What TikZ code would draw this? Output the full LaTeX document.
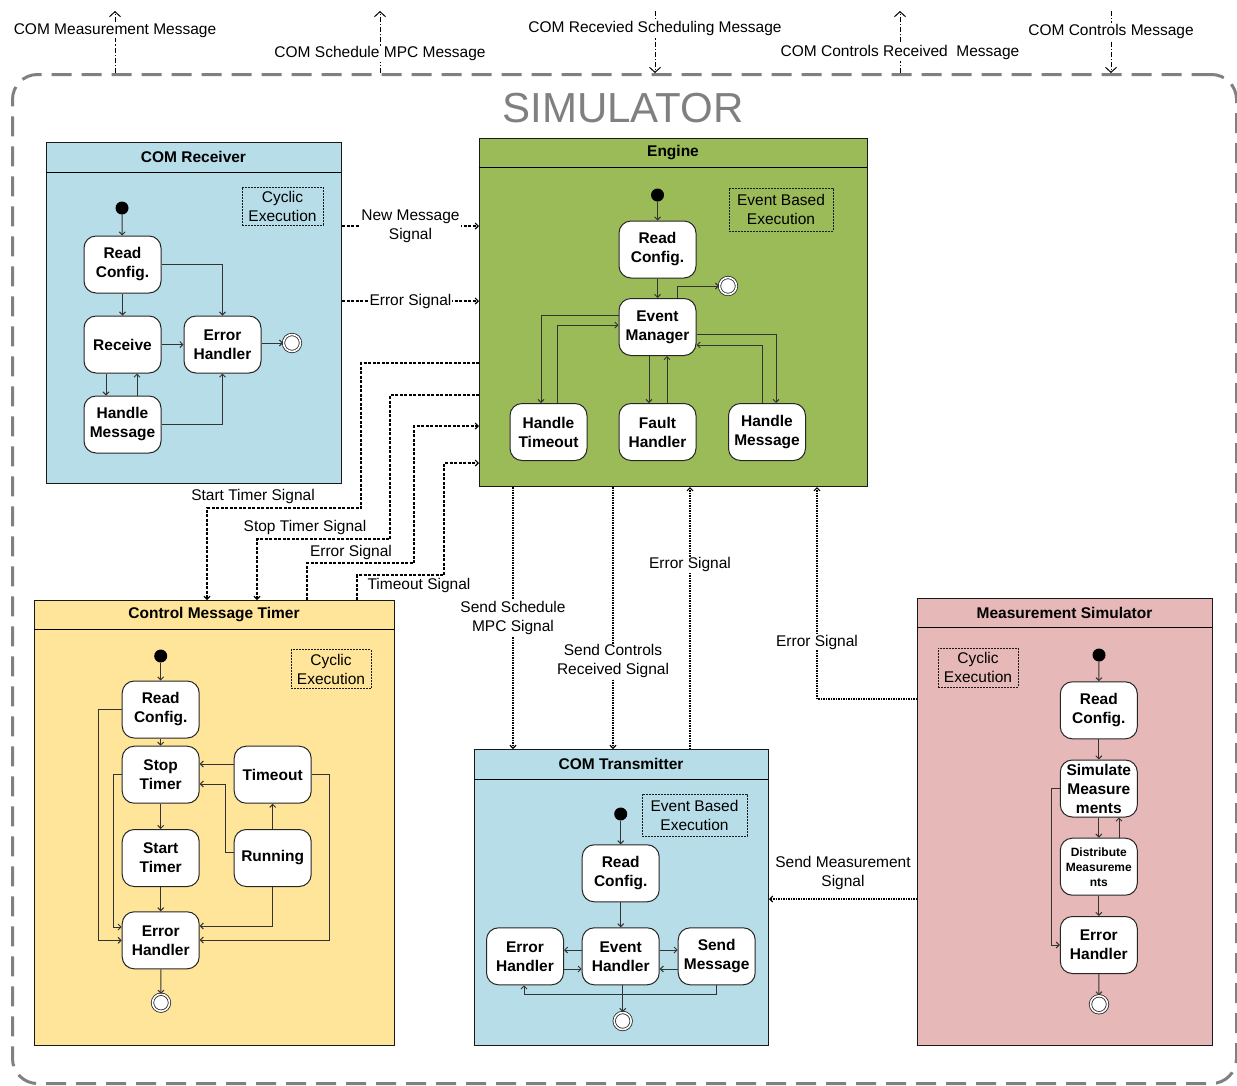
\documentclass[tikz,border=0pt]{standalone}
\usepackage{fontspec}
\setmainfont{Liberation Sans}
\usetikzlibrary{arrows.meta}
\definecolor{cblue}{RGB}{182,221,232}
\definecolor{cgreen}{RGB}{155,187,89}
\definecolor{cyellow}{RGB}{255,229,153}
\definecolor{cpink}{RGB}{230,184,183}
\definecolor{cgray}{RGB}{128,128,128}
\newcommand{\nf}{\fontsize{15.5}{19}\selectfont}
\newcommand{\smallnf}{\fontsize{12}{15}\selectfont}
\begin{document}
\begin{tikzpicture}[x=1pt,y=-1pt,
  st/.style={draw=black!85, line width=1pt, fill=white, rounded corners=12pt,
    minimum width=77pt, minimum height=57pt, align=center, font=\nf\bfseries, inner sep=1pt},
  init/.style={circle, fill=black, minimum size=13pt, inner sep=0pt},
  fin/.style={circle, draw=black!85, line width=0.8pt, double=white, double distance=1.6pt,
    fill=white, minimum size=17pt, inner sep=0pt},
  pool/.style={draw=black!90, line width=1pt, anchor=north west, inner sep=0pt},
  ptitle/.style={font=\nf\bfseries},
  execbox/.style={draw=black!90, line width=1pt, dash pattern=on 2pt off 1pt, align=center,
    font=\nf, inner sep=1pt},
  flow/.style={draw=black!80, line width=1pt, -{Straight Barb[length=3pt,width=6pt]}},
  sig/.style={draw=black, line width=1.1pt, dash pattern=on 3pt off 1.5pt,
    -{Straight Barb[length=3pt,width=6pt]}},
  sigb/.style={draw=black, line width=1.1pt, dash pattern=on 1.5pt off 1pt,
    -{Straight Barb[length=3pt,width=6pt]}},
  ext/.style={draw=black, line width=1pt, dash pattern=on 5pt off 2pt on 1.2pt off 2pt,
    -{Straight Barb[length=5pt,width=11pt]}},
  lbl/.style={fill=white, inner sep=1pt, align=center, font=\nf},
  plain/.style={inner sep=1pt, align=center, font=\nf}
]
\useasboundingbox (0,0) rectangle (1237,1085);
\fill[white] (0,0) rectangle (1237,1085);

% outer simulator frame
\node[draw=cgray, line width=3pt, dash pattern=on 20pt off 10pt, rounded corners=25pt,
  anchor=north west, minimum width=1224pt, minimum height=1009pt, inner sep=0pt] (out) at (11,73) {};
\node[text=cgray, font=\fontsize{42}{46}\selectfont] (simt) at (623,108) {SIMULATOR};

% external messages
\draw[ext] (115,0 |- out.north) -- node[lbl, pos=0.69] {COM Measurement Message} (115,11);
\draw[ext] (380,0 |- out.north) -- node[lbl, pos=0.31] {COM Schedule MPC Message} (380,11);
\draw[ext] (655,11) -- node[lbl, pos=0.28] {COM Recevied Scheduling Message} (655,0 |- out.north);
\draw[ext] (900,0 |- out.north) -- node[lbl, pos=0.33] {COM Controls Received~~Message} (900,11);
\draw[ext] (1111,11) -- node[lbl, pos=0.33] {COM Controls Message} (1111,0 |- out.north);

% ---------------- pools
\node[pool, fill=cblue, minimum width=295pt, minimum height=341pt] (rec) at (46,142) {};
\draw[line width=1pt] (46,172) -- (341,172);
\node[ptitle] at (193.5,157) {COM Receiver};

\node[pool, fill=cgreen, minimum width=388pt, minimum height=348pt] (eng) at (479,138) {};
\draw[line width=1pt] (479,167) -- (867,167);
\node[ptitle] at (673,152.5) {Engine};

\node[pool, fill=cyellow, minimum width=360pt, minimum height=445pt] (tim) at (34,600) {};
\draw[line width=1pt] (34,629) -- (394,629);
\node[ptitle] at (214,614.5) {Control Message Timer};

\node[pool, fill=cblue, minimum width=294pt, minimum height=296pt] (trn) at (474,749) {};
\draw[line width=1pt] (474,779) -- (768,779);
\node[ptitle] at (621,764) {COM Transmitter};

\node[pool, fill=cpink, minimum width=295pt, minimum height=447pt] (mea) at (917,598) {};
\draw[line width=1pt] (917,627) -- (1212,627);
\node[ptitle] at (1064.5,612.5) {Measurement Simulator};

% ---------------- COM Receiver
\node[execbox, minimum width=81pt, minimum height=38pt] (rex) at (282.5,206) {Cyclic\\Execution};
\node[init] (rd) at (122,208) {};
\node[st] (rrc) at (122.5,264.5) {Read\\Config.};
\node[st] (rrv) at (122.5,344.5) {Receive};
\node[st] (rhm) at (122.5,424.5) {Handle\\Message};
\node[st] (reh) at (222.5,344.5) {Error\\Handler};
\node[fin] (rfin) at (292,343) {};
\draw[flow] (rd) -- (rrc);
\draw[flow] (rrc) -- (rrv);
\draw[flow] (rrc) -| (reh);
\draw[flow] (rrv) -- (reh);
\draw[flow] (106,0 |- rrv.south) -- (106,0 |- rhm.north);
\draw[flow] (137,0 |- rhm.north) -- (137,0 |- rrv.south);
\draw[flow] (rhm) -| (reh);
\draw[flow] (reh.east |- rfin) -- (rfin);

% ---------------- Engine
\node[execbox, minimum width=104pt, minimum height=43pt] (eex) at (781,209.5) {Event Based\\Execution};
\node[init] (ed) at (657.5,195) {};
\node[st] (erc) at (657.5,249.5) {Read\\Config.};
\node[st] (em) at (657.5,327) {Event\\Manager};
\node[fin] (efin) at (728,286) {};
\node[st] (eht) at (548.5,432) {Handle\\Timeout};
\node[st] (efh) at (657.5,432) {Fault\\Handler};
\node[st] (ehm) at (767,432) {Handle\\Message};
\draw[flow] (ed) -- (erc);
\draw[flow] (erc) -- (em);
\draw[flow] (677,0 |- em.north) |- (efin);
\draw[flow] (em.west |- 0,315) -| (541,0 |- eht.north);
\draw[flow] (557,0 |- eht.north) |- (em.west |- 0,325);
\draw[flow] (649,0 |- em.south) -- (649,0 |- efh.north);
\draw[flow] (667,0 |- efh.north) -- (667,0 |- em.south);
\draw[flow] (em.east |- 0,334) -| (776,0 |- ehm.north);
\draw[flow] (762,0 |- ehm.north) |- (em.east |- 0,345);

% ---------------- Control Message Timer
\node[execbox, minimum width=80pt, minimum height=39pt] (tex) at (331,669) {Cyclic\\Execution};
\node[init] (td) at (160.7,656) {};
\node[st] (trc) at (160.7,709.5) {Read\\Config.};
\node[st] (tst) at (160.7,774.7) {Stop\\Timer};
\node[st] (tsa) at (160.7,858) {Start\\Timer};
\node[st] (teh) at (160.7,940.3) {Error\\Handler};
\node[st] (tto) at (272.7,774.7) {Timeout};
\node[st] (tru) at (272.7,858) {Running};
\node[fin] (tfin) at (161,1002.7) {};
\draw[flow] (td) -- (trc);
\draw[flow] (trc) -- (tst);
\draw[flow] (tst) -- (tsa);
\draw[flow] (tsa) -- (teh);
\draw[flow] (teh) -- (tfin);
\draw[flow] (trc.west) -- (98,0 |- trc.west) |- (teh.west);
\draw[flow] (tst.west) -- (113,0 |- tst.west) |- (teh.west |- 0,927);
\draw[flow] (tto.west |- 0,764) -- (tst.east |- 0,764);
\draw[flow] (tru.west |- 0,852) -- (225,852) |- (tst.east |- 0,784);
\draw[flow] (tru) -- (tto);
\draw[flow] (tru.south) |- (teh.east |- 0,926);
\draw[flow] (tto.east) -- (329,0 |- tto.east) |- (teh.east |- 0,940);

% ---------------- COM Transmitter
\node[execbox, minimum width=105pt, minimum height=42pt] (xex) at (694.5,815) {Event Based\\Execution};
\node[init] (xd) at (620.7,814) {};
\node[st] (xrc) at (620.7,873.3) {Read\\Config.};
\node[st] (xeh) at (620.7,956.3) {Event\\Handler};
\node[st] (xer) at (525,956.3) {Error\\Handler};
\node[st] (xsm) at (716.7,956.3) {Send\\Message};
\node[fin] (xfin) at (622.7,1021) {};
\draw[flow] (xd) -- (xrc);
\draw[flow] (xrc) -- (xeh);
\draw[flow] (xeh.west |- 0,950) -- (xer.east |- 0,950);
\draw[flow] (xer.east |- 0,969) -- (xeh.west |- 0,969);
\draw[flow] (xeh.east |- 0,950) -- (xsm.west |- 0,950);
\draw[flow] (xsm.west |- 0,969) -- (xeh.east |- 0,969);
\draw[flow] (xsm.south) |- (524,994) -- (524,0 |- xer.south);
\draw[flow] (622.7,0 |- xeh.south) -- (xfin);

% ---------------- Measurement Simulator
\node[execbox, minimum width=80pt, minimum height=39pt] (mex) at (978,667.5) {Cyclic\\Execution};
\node[init] (md) at (1099,655) {};
\node[st] (mrc) at (1098.8,710.3) {Read\\Config.};
\node[st] (msm) at (1098.8,788.5) {Simulate\\Measure\\ments};
\node[st, font=\smallnf\bfseries] (mdi) at (1098.8,866.7) {Distribute\\Measureme\\nts};
\node[st] (meh) at (1098.8,945) {Error\\Handler};
\node[fin] (mfin) at (1099,1004.3) {};
\draw[flow] (md) -- (mrc);
\draw[flow] (mrc) -- (msm);
\draw[flow] (msm) -- (mdi);
\draw[flow] (1119,0 |- mdi.north) -- (1119,0 |- msm.south);
\draw[flow] (mdi) -- (meh);
\draw[flow] (meh) -- (mfin);
\draw[flow] (msm.west) -- (1051,0 |- msm.west) |- (meh.west);

% ---------------- signals between pools
\draw[sig] (rec.east |- 0,226) -- node[lbl] {New Message\\Signal} (eng.west |- 0,226);
\draw[sig] (rec.east |- 0,301) -- node[lbl] {Error Signal} (eng.west |- 0,301);

\draw[sig] (eng.west |- 0,363) -| (361,508) -| (207,0 |- tim.north);
\node[plain] (lst) at (253,496) {Start Timer Signal};
\draw[sig] (eng.west |- 0,395) -| (390,539) -| (257,0 |- tim.north);
\node[plain] (lsp) at (305,527) {Stop Timer Signal};
\draw[sig] (307,0 |- tim.north) |- (414,563) |- (eng.west |- 0,426);
\node[plain] (ler) at (351,552) {Error Signal};
\draw[sig] (357,0 |- tim.north) |- (444,575) |- (eng.west |- 0,463);
\node[plain] (lto) at (419,585) {Timeout Signal};

\draw[sigb] (513,0 |- eng.south) -- node[lbl, pos=0.5] {Send Schedule\\MPC Signal} (513,0 |- trn.north);
\draw[sigb] (613,0 |- eng.south) -- node[lbl, pos=0.665] {Send Controls\\Received Signal} (613,0 |- trn.north);
\draw[sigb] (690,0 |- trn.north) -- node[lbl, pos=0.703] {Error Signal} (690,0 |- eng.south);
\draw[sigb] (mea.west |- 0,699) -| node[lbl, pos=0.634] {Error Signal} (817,0 |- eng.south);
\draw[sigb] (mea.west |- 0,899) -- (trn.east |- 0,899);
\node[plain] (lsm) at (843,873) {Send Measurement\\Signal};
\end{tikzpicture}
\end{document}
